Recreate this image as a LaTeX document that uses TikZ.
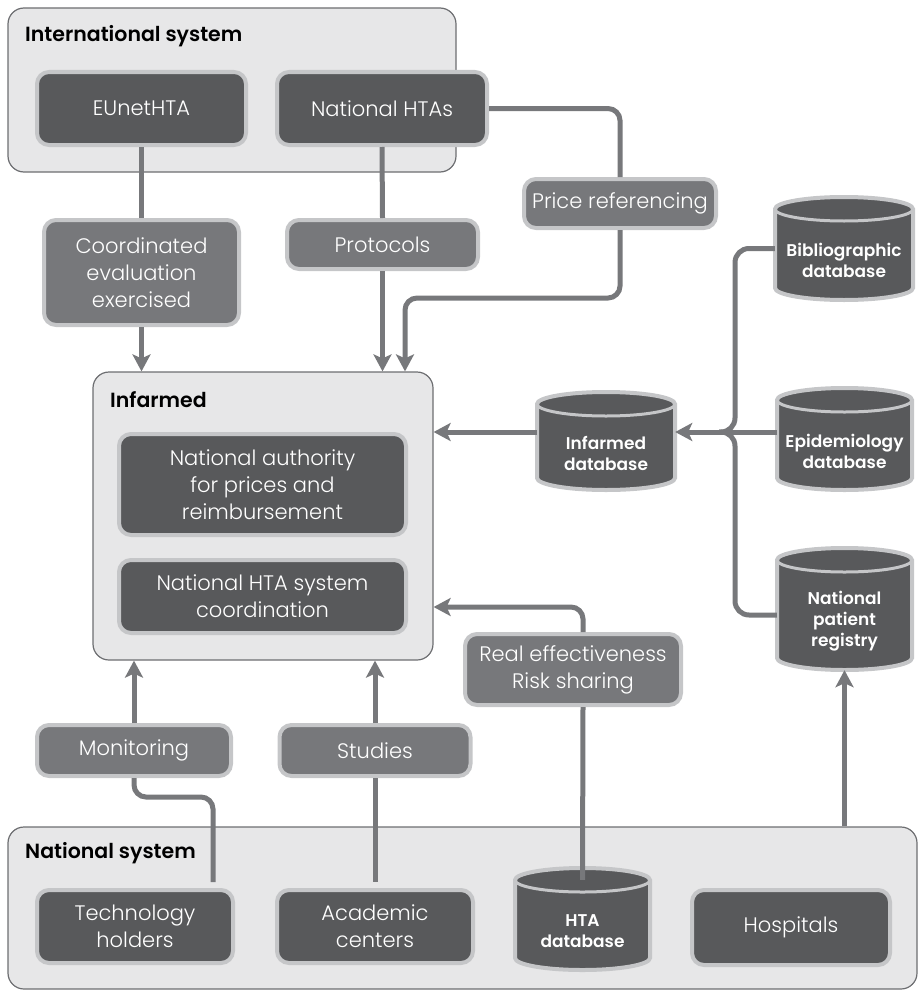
\documentclass[tikz,border=0pt]{standalone}
\usepackage{fontspec}
\setmainfont{Poppins}[UprightFont=* Light, BoldFont=* SemiBold]
\newfontfamily\boldfam{Poppins SemiBold}
\usetikzlibrary{arrows.meta}
\definecolor{darkfill}{HTML}{58595B}
\definecolor{midfill}{HTML}{77787B}
\definecolor{lightb}{HTML}{C5C6C8}
\definecolor{contfill}{HTML}{E7E7E8}
\definecolor{contline}{HTML}{6D6E71}
\definecolor{connc}{HTML}{77787B}
\tikzset{
  container/.style={draw=contline, line width=1.2pt, fill=contfill, rounded corners=16pt, inner sep=0pt},
  darkbox/.style={draw=lightb, line width=4pt, fill=darkfill, rounded corners=12pt, text=white, align=center, inner sep=0pt, font=\fontsize{21}{27}\selectfont},
  midbox/.style={draw=lightb, line width=4pt, fill=midfill, rounded corners=12pt, text=white, align=center, inner sep=0pt, font=\fontsize{21}{27}\selectfont},
  conttitle/.style={anchor=west, text=black, inner sep=0pt, font=\boldfam\fontsize{20.5}{24}\selectfont},
  cylstyle/.style={draw=lightb, line width=4pt, fill=darkfill},
  cylline/.style={draw=lightb, line width=3pt},
  dbtext/.style={text=white, align=center, inner sep=0pt, font=\boldfam\fontsize{17}{21}\selectfont},
  conn/.style={draw=connc, line width=5pt},
  arr/.style={draw=connc, line width=5pt, -{Stealth[length=17pt,width=18pt,inset=4pt]}},
}
\newcommand\dbcyl[6]{%
  \pgfmathsetmacro\cxa{(#2+#3)/2}%
  \pgfmathsetmacro\rxa{(#3-#2)/2}%
  \pgfmathsetmacro\cta{#4+12}%
  \pgfmathsetmacro\cba{#5-12}%
  \pgfmathsetmacro\kxa{0.5523*\rxa}%
  \pgfmathsetmacro\kya{0.5523*12}%
  \pgfmathsetmacro\eba{\cta+12}%
  \filldraw[cylstyle] (#2,\cta) .. controls (#2,\cta-\kya) and (\cxa-\kxa,#4) .. (\cxa,#4)
     .. controls (\cxa+\kxa,#4) and (#3,\cta-\kya) .. (#3,\cta)
     -- (#3,\cba) .. controls (#3,\cba+\kya) and (\cxa+\kxa,#5) .. (\cxa,#5)
     .. controls (\cxa-\kxa,#5) and (#2,\cba+\kya) .. (#2,\cba) -- cycle;
  \draw[cylline] (#2,\cta) .. controls (#2,\cta+\kya) and (\cxa-\kxa,\eba) .. (\cxa,\eba)
     .. controls (\cxa+\kxa,\eba) and (#3,\cta+\kya) .. (#3,\cta);
  \pgfmathsetmacro\hta{#5-#4}%
  \pgfmathsetmacro\wta{#3-#2}%
  \node[inner sep=0pt, minimum width=\wta pt, minimum height=\hta pt] (#1) at (\cxa,{(#4+#5)/2}) {};
  \node[dbtext] (#1-t) at (\cxa,{(\eba+#5)/2}) {#6};
}
\begin{document}
\begin{tikzpicture}[x=1pt, y=-1pt]
\useasboundingbox (0,0) rectangle (919,990);

% containers
\node[container, minimum width=448pt, minimum height=164pt] (intl) at (232,90) {};
\node[conttitle] (intl-t) at (25,36) {International system};
\node[container, minimum width=340pt, minimum height=288pt] (infarmed) at (263,516) {};
\node[conttitle] (infarmed-t) at (110,400) {Infarmed};
\node[container, minimum width=909pt, minimum height=162pt] (natsys) at (462.5,908) {};
\node[conttitle] (natsys-t) at (25,853) {National system};

% international boxes
\node[darkbox, minimum width=209pt, minimum height=73pt] (eunet) at (141.5,108.5) {EUnetHTA};
\node[darkbox, minimum width=210pt, minimum height=73pt] (nathtas) at (382,108.5) {National HTAs};

% label boxes
\node[midbox, minimum width=195pt, minimum height=105pt] (coord) at (141.5,272.5) {Coordinated\\evaluation\\exercised};
\node[midbox, minimum width=191pt, minimum height=49pt] (protocols) at (382.5,244.5) {Protocols};
\node[midbox, minimum width=192pt, minimum height=49pt] (priceref) at (620,203.5) {Price referencing};
\node[midbox, minimum width=216pt, minimum height=71pt] (realeff) at (573,669.5) {Real effectiveness\\Risk sharing};
\node[midbox, minimum width=194pt, minimum height=51pt] (monit) at (134,750.5) {Monitoring};
\node[midbox, minimum width=191pt, minimum height=51pt] (studies) at (375,750.5) {Studies};

% infarmed inner boxes
\node[darkbox, minimum width=287pt, minimum height=101pt] (natauth) at (262.5,484.5) {National authority\\for prices and\\reimbursement};
\node[darkbox, minimum width=287pt, minimum height=73pt] (natcoord) at (262.5,596.5) {National HTA system\\coordination};

% national system boxes
\node[darkbox, minimum width=196pt, minimum height=73pt] (tech) at (135,926.5) {Technology\\holders};
\node[darkbox, minimum width=196pt, minimum height=73pt] (academic) at (375,926.5) {Academic\\centers};
\node[darkbox, minimum width=198pt, minimum height=75pt] (hospitals) at (791,927.5) {Hospitals};

% databases
\dbcyl{biblio}{775}{913}{197}{300}{Bibliographic\\database}
\dbcyl{infdb}{537}{675}{392}{490}{Infarmed\\database}
\dbcyl{epid}{777}{912}{388}{490}{Epidemiology\\database}
\dbcyl{registry}{777}{912}{548}{670}{National\\patient\\registry}
\dbcyl{htadb}{515}{650}{868}{970}{HTA\\database}

% connectors: international
\draw[conn] (eunet.south) -- (coord.north);
\draw[arr] (coord.south) -- (coord.south |- infarmed.north);
\draw[conn] (nathtas.south) -- (protocols.north);
\draw[arr] (protocols.south) -- (protocols.south |- infarmed.north);
\draw[conn, rounded corners=12pt] (nathtas.east) -| (priceref.north);
\coordinate (pr1) at (405,298);
\draw[arr, rounded corners=12pt] (priceref.south) |- (pr1) -- (pr1 |- infarmed.north);

% databases to infarmed
\coordinate (jn) at (735,432);
\draw[arr] ([yshift=9pt]infdb.west) -- (infarmed.east |- jn);
\draw[conn, rounded corners=14pt] (biblio.west) -| (jn) -- ([xshift=-16pt]jn);
\draw[conn, rounded corners=14pt] ([yshift=-6pt]registry.west) -| (jn) -- ([xshift=-16pt]jn);
\draw[conn] (epid.west |- jn) -- (jn);
\draw[arr] (jn) -- (infdb.east |- jn);

% real effectiveness
\coordinate (re1) at (583,607);
\draw[arr, rounded corners=12pt] (re1 |- realeff.north) -- (re1) -- (infarmed.east |- re1);
\draw[conn] (re1 |- realeff.south) -- ([yshift=-12pt]htadb.north);

% national system
\draw[arr] (monit.north) -- (monit.north |- infarmed.south);
\coordinate (m1) at (213,797);
\draw[conn, rounded corners=12pt] (monit.south) |- (m1) -- ([yshift=6pt]m1 |- tech.north);
\draw[arr] (studies.north) -- (studies.north |- infarmed.south);
\draw[conn] (studies.south) -- ([yshift=6pt]academic.north);
\draw[arr] (registry.south |- natsys.north) -- (registry.south);
\end{tikzpicture}
\end{document}
